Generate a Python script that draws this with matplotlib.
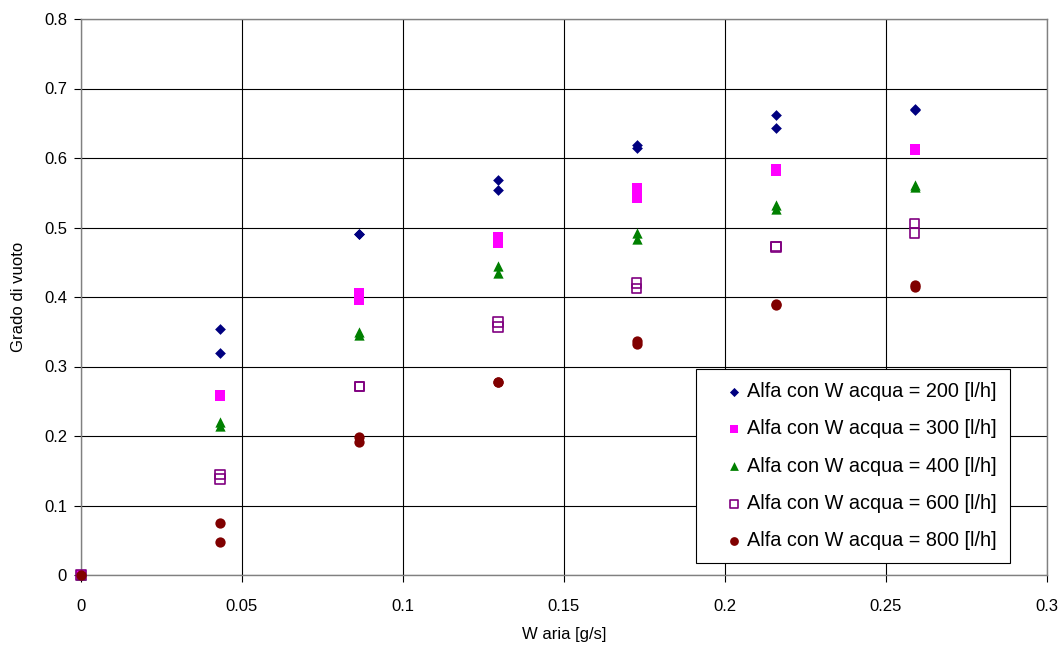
import matplotlib
matplotlib.use("Agg")
import matplotlib.pyplot as plt

plt.rcParams['font.family'] = ['Liberation Sans', 'DejaVu Sans']

# portata d'aria [g/s], due misure per ogni punto
w_aria = [0, 0.0432, 0.0432, 0.0864, 0.0864, 0.1295, 0.1295,
          0.1726, 0.1726, 0.2158, 0.2158, 0.2589, 0.2589]

alfa_200 = [0, 0.354, 0.320, 0.490, 0.490, 0.568, 0.554,
            0.619, 0.614, 0.662, 0.643, 0.670, 0.669]
alfa_300 = [0, 0.259, 0.257, 0.406, 0.396, 0.487, 0.477,
            0.557, 0.542, 0.584, 0.581, 0.613, 0.612]
alfa_400 = [0, 0.220, 0.215, 0.350, 0.346, 0.445, 0.434,
            0.492, 0.483, 0.533, 0.527, 0.561, 0.558]
alfa_600 = [0, 0.145, 0.138, 0.271, 0.271, 0.364, 0.357,
            0.420, 0.412, 0.473, 0.472, 0.506, 0.492]
alfa_800 = [0, 0.075, 0.047, 0.198, 0.192, 0.278, 0.278,
            0.336, 0.333, 0.390, 0.389, 0.417, 0.415]

fig = plt.figure(figsize=(10.63, 6.5), dpi=100)
ax = fig.add_axes([81/1063, 1-575/650, (1047-81)/1063, (575-19)/650])

ax.scatter(w_aria, alfa_200, marker='D', s=30, color='#000080', lw=0,
           label='Alfa con W acqua = 200 [l/h]', zorder=3, clip_on=False)
ax.scatter(w_aria, alfa_300, marker='s', s=55, color='#FF00FF', lw=0,
           label='Alfa con W acqua = 300 [l/h]', zorder=3, clip_on=False)
ax.scatter(w_aria, alfa_400, marker='^', s=55, color='#008000', lw=0,
           label='Alfa con W acqua = 400 [l/h]', zorder=3, clip_on=False)
ax.scatter(w_aria, alfa_600, marker='s', s=45, facecolors='none',
           edgecolors='#800080', lw=1.2,
           label='Alfa con W acqua = 600 [l/h]', zorder=3, clip_on=False)
ax.scatter(w_aria, alfa_800, marker='o', s=55, color='#800000', lw=0,
           label='Alfa con W acqua = 800 [l/h]', zorder=3, clip_on=False)

ax.set_xlim(0, 0.3)
ax.set_ylim(0, 0.8)
ax.set_xticks([0, 0.05, 0.1, 0.15, 0.2, 0.25, 0.3])
ax.set_xticklabels(['0', '0.05', '0.1', '0.15', '0.2', '0.25', '0.3'])
ax.set_yticks([0, 0.1, 0.2, 0.3, 0.4, 0.5, 0.6, 0.7, 0.8])
ax.set_yticklabels(['0', '0.1', '0.2', '0.3', '0.4', '0.5', '0.6', '0.7', '0.8'])
ax.tick_params(labelsize=12, length=5, direction='out', pad=5)
ax.tick_params(axis='x', pad=12)
ax.grid(True, color='black', lw=0.8)
ax.set_axisbelow(True)
for s in ax.spines.values():
    s.set_color('#808080')
    s.set_linewidth(1)

ax.set_xlabel('W aria [g/s]', fontsize=12, labelpad=10)
ax.set_ylabel('Grado di vuoto', fontsize=12, labelpad=13)

leg = ax.legend(loc='lower right', bbox_to_anchor=(0.9617, 0.0216),
                fontsize=14.3, frameon=True, fancybox=False,
                edgecolor='black', handlelength=2.5, handletextpad=-0.55,
                labelspacing=0.92, borderpad=0.65, markerscale=0.85,
                borderaxespad=0, framealpha=1)
leg.get_frame().set_linewidth(0.8)

fig.savefig('out.png', dpi=100)
